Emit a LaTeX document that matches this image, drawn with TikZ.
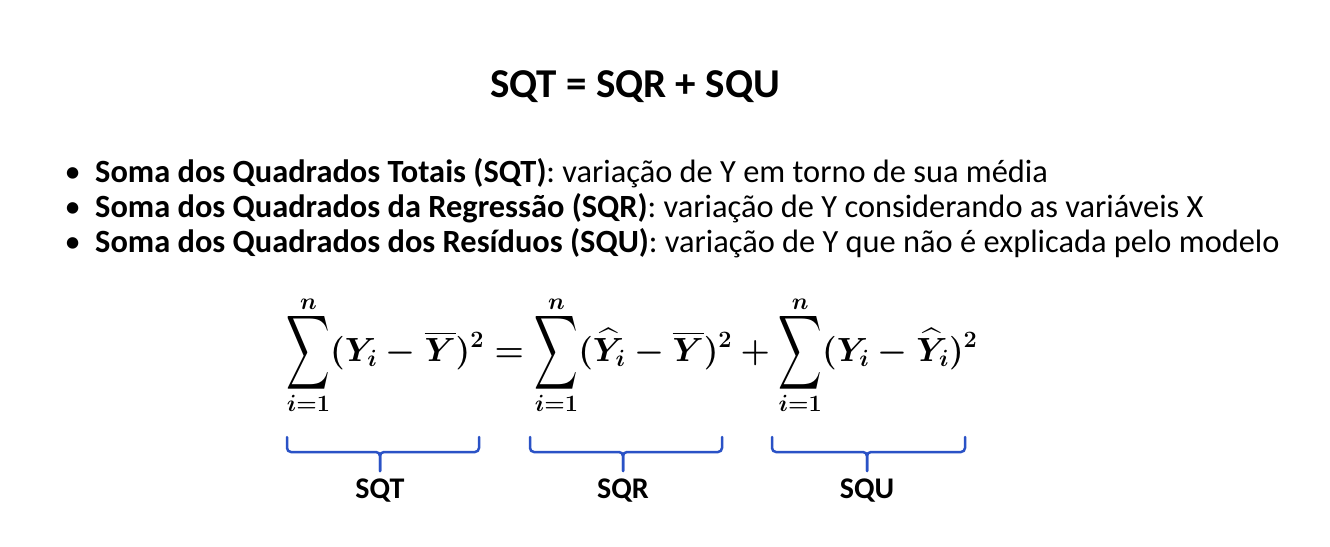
\RequirePackage{fix-cm}
\documentclass[tikz,border=0pt]{standalone}
\usepackage[no-math]{fontspec}
\setmainfont{Carlito}
\usepackage{amsmath}
\usepackage{graphicx}
\DeclareFontShape{OMX}{cmex}{m}{n}{<->cmex10}{}
\newcommand{\somat}{\mathop{\vcenter{\hbox{\raisebox{0pt}[\dimexpr\height-5pt\relax][\dimexpr\depth-5pt\relax]{\scalebox{0.9}[1.55]{$\displaystyle\sum$}}}}}\limits}
\definecolor{azulchave}{RGB}{42,82,198}
\tikzset{
  titulo/.style={font=\fontsize{41}{46}\selectfont\bfseries, inner sep=0pt},
  item/.style={anchor=base west, inner sep=0pt, font=\fontsize{32.4}{38}\selectfont},
  marca/.style={anchor=base east, inner sep=0pt, font=\fontsize{32.4}{38}\selectfont},
  rotulo/.style={font=\fontsize{30}{34}\selectfont\bfseries, inner sep=0pt},
  chave/.style={azulchave, line width=2.5pt, rounded corners=4pt}
}
\begin{document}
\begin{tikzpicture}[x=1pt,y=-1pt,line join=round,line cap=round]
  \useasboundingbox[fill=white] (0,0) rectangle (1330,546);
  \node[titulo] (tit) at (635,87) {SQT = SQR + SQU};
  % lista de definicoes
  \foreach \k/\yy/\nome/\desc in {%
      1/182/{Soma dos Quadrados Totais (SQT)}/{variação de Y em torno de sua média},
      2/217/{Soma dos Quadrados da Regressão (SQR)}/{variação de Y considerando as variáveis X},
      3/252/{Soma dos Quadrados dos Resíduos (SQU)}/{variação de Y que não é explicada pelo modelo}}{
    \node[item] (lin\k) at (95,\yy) {\textbf{\nome}: \desc};
    \node[marca] (bul\k) at ([xshift=-14]lin\k.base west) {\textbullet};
  }
  % equacao
  \node[inner sep=0pt, font=\fontsize{33.5}{38}\selectfont\boldmath] (soma) at (632,355)
    {$\displaystyle\somat_{i=1}^{n}(Y_i-\overline{Y})^2=\somat_{i=1}^{n}(\widehat{Y}_i-\overline{Y})^2+\somat_{i=1}^{n}(Y_i-\widehat{Y}_i)^2$};
  % chaves
  \foreach \esq/\meio/\dir/\txt in {287/380/479/SQT, 530/623/722/SQR, 772/867/965/SQU}{
    \draw[chave] (\esq,437) |- (\meio,452) -- (\meio,471);
    \draw[chave] (\dir,437) |- (\meio,452) -- (\meio,471);
    \node[rotulo] (r\txt) at (\meio,491) {\txt};
  }
\end{tikzpicture}
\end{document}
